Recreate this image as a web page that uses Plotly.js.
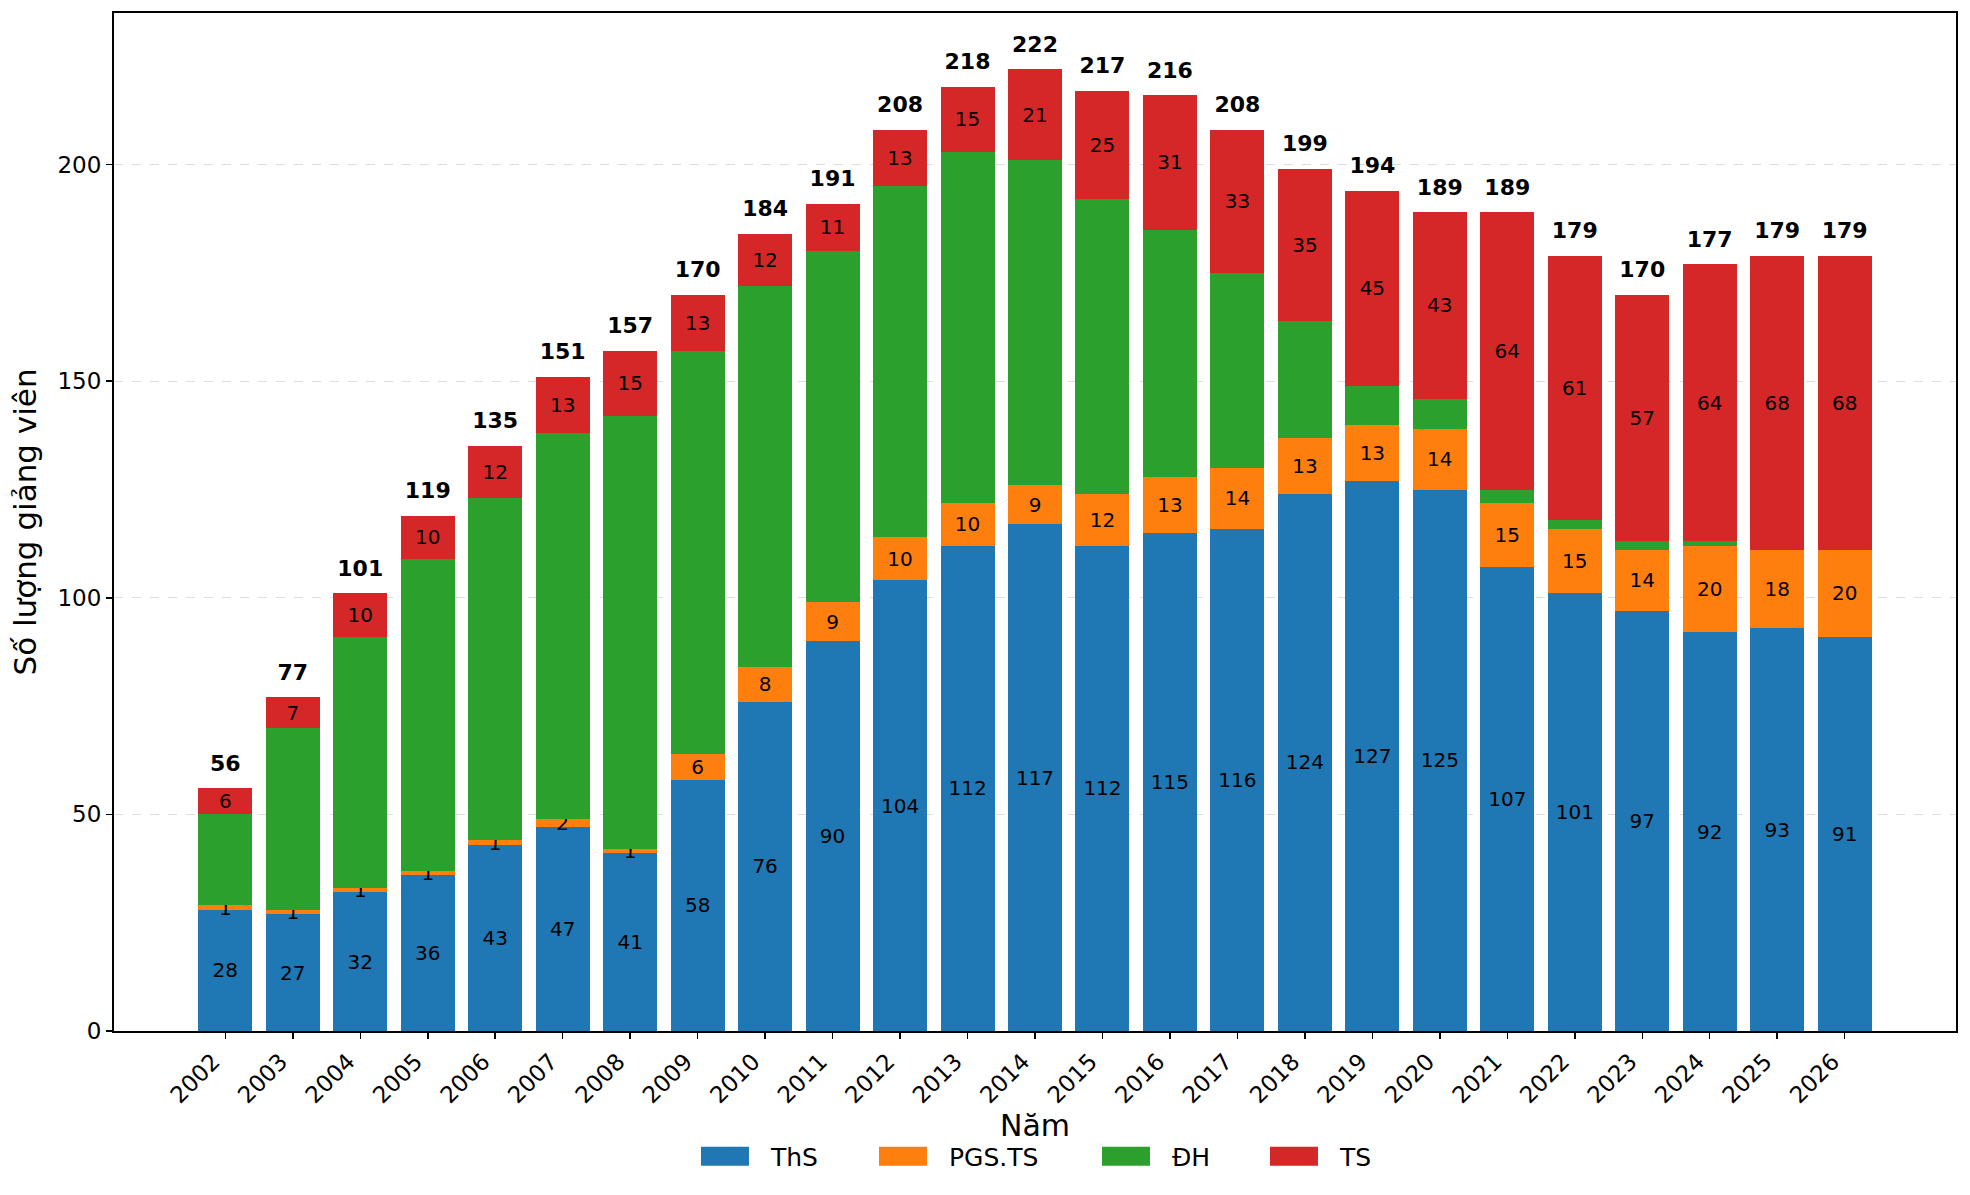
<!DOCTYPE html>
<html>
<head>
<meta charset="utf-8">
<script src="https://cdn.plot.ly/plotly-3.0.1.min.js"></script>
<style>
  html, body { margin: 0; padding: 0; background: #fff; }
  #chart { width: 1970px; height: 1195px; }
</style>
</head>
<body>
<div id="chart"></div>
<script>
// Số lượng giảng viên theo năm, chia theo trình độ
const years = ['2002', '2003', '2004', '2005', '2006', '2007', '2008', '2009', '2010', '2011',
  '2012', '2013', '2014', '2015', '2016', '2017', '2018', '2019', '2020', '2021',
  '2022', '2023', '2024', '2025', '2026'];

const ths = [28, 27, 32, 36, 43, 47, 41, 58, 76, 90, 104, 112, 117, 112, 115, 116, 124, 127, 125, 107, 101, 97, 92, 93, 91];
const pgsts = [1, 1, 1, 1, 1, 2, 1, 6, 8, 9, 10, 10, 9, 12, 13, 14, 13, 13, 14, 15, 15, 14, 20, 18, 20];
const dh = [21, 42, 58, 72, 79, 89, 100, 93, 88, 81, 81, 81, 75, 68, 57, 45, 27, 9, 7, 3, 2, 2, 1, 0, 0];
const ts = [6, 7, 10, 10, 12, 13, 15, 13, 12, 11, 13, 15, 21, 25, 31, 33, 35, 45, 43, 64, 61, 57, 64, 68, 68];

const colors = { ths: '#1f77b4', pgsts: '#ff7f0e', dh: '#2ca02c', ts: '#d62728' };
const FONT = 'DejaVu Sans, Liberation Sans, sans-serif';

const totals = years.map((_, i) => ths[i] + pgsts[i] + dh[i] + ts[i]);

function segment(name, values, color, labelled, legendwidth) {
  const trace = {
    type: 'bar',
    name: name,
    x: years,
    y: values,
    marker: { color: color, line: { width: 0 } },
    legendwidth: legendwidth,
    hoverinfo: 'x+y+name',
  };
  if (labelled) {
    trace.text = values.map(String);
    trace.textposition = 'inside';
    trace.insidetextanchor = 'middle';
    trace.textangle = 0;
    trace.constraintext = 'none';
    trace.textfont = { family: FONT, size: 20, color: '#000' };
  } else {
    trace.textposition = 'none';
  }
  return trace;
}

const traces = [
  segment('ThS', ths, colors.ths, true, 81),
  segment('PGS.TS', pgsts, colors.pgsts, true, 126),
  segment('ĐH', dh, colors.dh, false, 71),
  segment('TS', ts, colors.ts, true, 35),
  // tổng số trên đỉnh cột
  {
    type: 'scatter',
    mode: 'markers+text',
    x: years,
    y: totals,
    text: totals.map((v) => '<b>' + v + '</b>'),
    textposition: 'top center',
    textfont: { family: FONT, size: 22, color: '#000' },
    marker: { size: 18, opacity: 0, color: '#fff' },
    cliponaxis: false,
    showlegend: false,
    hoverinfo: 'skip',
  },
];

const layout = {
  width: 1970,
  height: 1195,
  paper_bgcolor: '#fff',
  plot_bgcolor: '#fff',
  font: { family: FONT, color: '#000' },
  margin: { l: 114, r: 14, t: 13, b: 164, autoexpand: false },
  barmode: 'stack',
  bargap: 0.2,
  uniformtext: { mode: 'show', minsize: 20 },
  showlegend: true,
  legend: {
    orientation: 'h',
    x: 0.497,
    xanchor: 'center',
    y: -0.1233,
    yanchor: 'middle',
    font: { family: FONT, size: 25, color: '#000' },
    traceorder: 'normal',
    itemwidth: 82,
    borderwidth: 0,
  },
  xaxis: {
    type: 'category',
    range: [-1.65, 25.65],
    tickangle: -45,
    ticks: 'outside',
    ticklen: 6,
    tickwidth: 1.5,
    tickcolor: '#000',
    ticklabelshift: -12,
    tickfont: { family: FONT, size: 23, color: '#000' },
    showline: true,
    linecolor: '#000',
    linewidth: 2,
    mirror: true,
    showgrid: false,
    zeroline: false,
    automargin: false,
    title: { text: 'Năm', font: { family: FONT, size: 30, color: '#000' }, standoff: 3 },
  },
  yaxis: {
    range: [0, 235],
    tickvals: [0, 50, 100, 150, 200],
    ticks: 'outside',
    ticklen: 6,
    tickwidth: 1.5,
    tickcolor: '#000',
    tickfont: { family: FONT, size: 23, color: '#000' },
    showline: true,
    linecolor: '#000',
    linewidth: 2,
    mirror: true,
    showgrid: true,
    gridcolor: '#dcdcdc',
    gridwidth: 1,
    griddash: 'dash',
    zeroline: false,
    automargin: false,
    title: { text: 'Số lượng giảng viên', font: { family: FONT, size: 31, color: '#000' }, standoff: 12 },
  },
};

// ô chú giải dạng chữ nhật như bản gốc
function widenLegendSymbols() {
  document.querySelectorAll('#chart .legend .legendpoints path').forEach((p) => {
    p.setAttribute('d', 'M24,9.5H-24V-9.5H24Z');
  });
}

const gd = document.getElementById('chart');
Plotly.newPlot(gd, traces, layout, { displayModeBar: false, staticPlot: true }).then(() => {
  widenLegendSymbols();
  setTimeout(widenLegendSymbols, 0);
  setTimeout(widenLegendSymbols, 200);
});
gd.on && gd.on('plotly_afterplot', widenLegendSymbols);
</script>
</body>
</html>
